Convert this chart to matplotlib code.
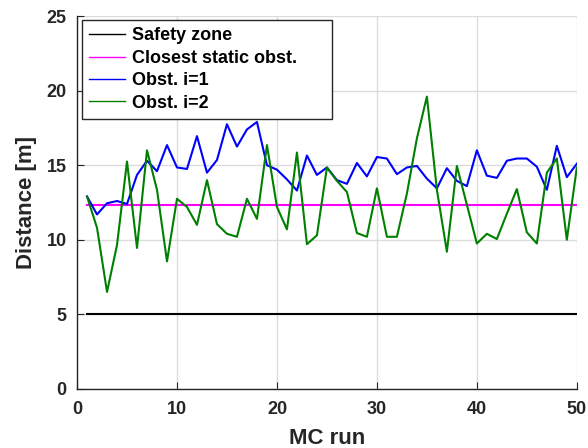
import numpy as np
import matplotlib
matplotlib.use('Agg')
import matplotlib.pyplot as plt

plt.rcParams['font.family'] = ['Liberation Sans', 'DejaVu Sans']
plt.rcParams['font.weight'] = 'bold'

# MC runs
runs = np.arange(1, 51)

safety_zone = 5.0
static_obst = 12.3

# Obst. i=1
obst1 = [12.9, 11.7, 12.45, 12.6, 12.4, 14.35, 15.3, 14.6, 16.35, 14.85,
         14.75, 16.95, 14.5, 15.35, 17.75, 16.25, 17.4, 17.9, 15.0, 14.7,
         14.05, 13.3, 15.65, 14.35, 14.85, 14.0, 13.75, 15.15, 14.25, 15.55,
         15.45, 14.4, 14.85, 14.95, 14.1, 13.45, 14.8, 13.95, 13.6, 16.0,
         14.3, 14.15, 15.3, 15.45, 15.45, 14.9, 13.35, 16.3, 14.2, 15.1]

# Obst. i=2
obst2 = [12.9, 10.8, 6.5, 9.65, 15.25, 9.45, 16.0, 13.35, 8.55, 12.75,
         12.2, 11.0, 14.0, 11.05, 10.4, 10.2, 12.75, 11.4, 16.35, 12.2,
         10.7, 15.85, 9.7, 10.3, 14.85, 13.95, 13.2, 10.45, 10.2, 13.45,
         10.2, 10.2, 13.1, 16.8, 19.6, 13.35, 9.2, 14.95, 12.35, 9.75,
         10.4, 10.05, 11.75, 13.4, 10.5, 9.75, 14.5, 15.45, 10.0, 14.85]

fig = plt.figure(figsize=(5.88, 4.48), dpi=100)
ax = fig.add_axes([0.131, 0.132, 0.85, 0.832])

ax.plot(runs, np.full(len(runs), safety_zone), color='k', lw=1.5, label='Safety zone')
ax.plot(runs, np.full(len(runs), static_obst), color='#ff00ff', lw=1.5, label='Closest static obst.')
ax.plot(runs, obst1, color='#0000ff', lw=1.5, label='Obst. i=1')
ax.plot(runs, obst2, color='#008000', lw=1.5, label='Obst. i=2')

ax.set_xlim(0, 50)
ax.set_ylim(0, 25)
ax.set_xticks(np.arange(0, 51, 10))
ax.set_yticks(np.arange(0, 26, 5))
ax.grid(True, color='#dcdcdc', lw=1.0)
ax.set_axisbelow(True)

for s in ['top', 'right']:
    ax.spines[s].set_visible(False)
for s in ['left', 'bottom']:
    ax.spines[s].set_color('#262626')
    ax.spines[s].set_linewidth(1.0)
ax.tick_params(direction='in', length=5, labelsize=13, colors='#262626')
ax.tick_params(axis='x', pad=9)
ax.tick_params(axis='y', pad=7.5)
for lab in ax.get_xticklabels() + ax.get_yticklabels():
    lab.set_fontweight('bold')

ax.set_xlabel('MC run', fontsize=16, fontweight='bold', color='#262626', labelpad=7)
ax.set_ylabel('Distance [m]', fontsize=16, fontweight='bold', color='#262626', labelpad=7)

leg = ax.legend(loc='upper left', bbox_to_anchor=(0.01, 0.0, 0.50, 0.989),
                mode='expand', fontsize=13, frameon=True, fancybox=False,
                edgecolor='#262626', framealpha=1, borderaxespad=0,
                handlelength=2.0, handletextpad=0.35, borderpad=0.4,
                labelspacing=0.3)
leg.get_frame().set_linewidth(1.0)
for t in leg.get_texts():
    t.set_fontweight('bold')
for l in leg.get_lines():
    l.set_linewidth(1.0)

plt.savefig('out.png', dpi=100)
plt.close()
